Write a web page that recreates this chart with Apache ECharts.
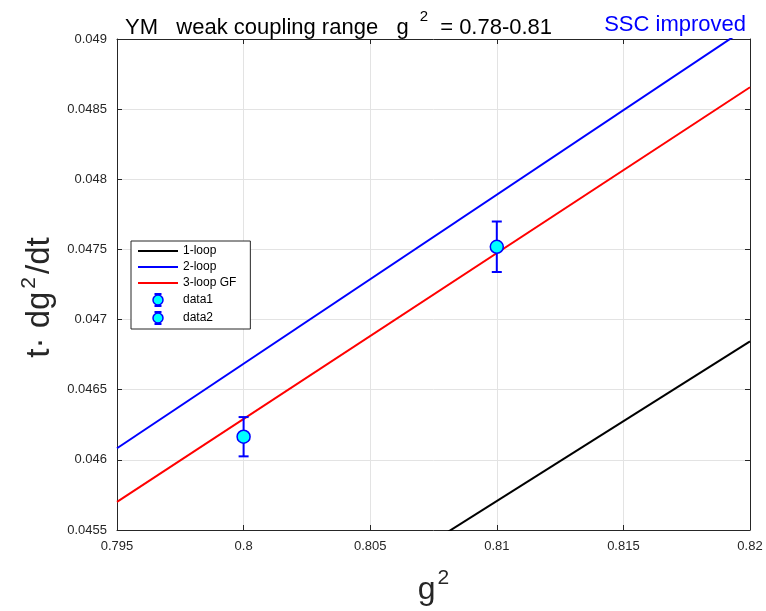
<!DOCTYPE html>
<html>
<head>
<meta charset="utf-8">
<script src="https://cdn.jsdelivr.net/npm/echarts@6/dist/echarts.min.js"></script>
<style>html,body{margin:0;padding:0;background:#fff}#c{width:766px;height:611px}</style>
</head>
<body>
<div id="c"></div>
<script>
// ---- data ----
const g2Ends = [0.795, 0.82];
const oneLoop = [0.04400, 0.046844];
const twoLoop = [0.046083, 0.049095];
const threeLoopGF = [0.04570, 0.048656];
const dataG2 = [0.80, 0.81];
const dataVal = [0.046165, 0.047519];
const dataErr = [0.00014, 0.00018];
const xTicks = [0.795, 0.8, 0.805, 0.81, 0.815, 0.82];
const yTicks = [0.0455, 0.046, 0.0465, 0.047, 0.0475, 0.048, 0.0485, 0.049];

const FONT = '"Liberation Sans", Arial, Helvetica, sans-serif';
const AX = '#262626';

function lineData(ys) { return g2Ends.map((x, i) => [x, ys[i]]); }
function errData(i) { return [[dataG2[i], dataVal[i], dataVal[i] - dataErr[i], dataVal[i] + dataErr[i]]]; }

function renderErr(params, api) {
  const x = api.value(0), y = api.value(1), lo = api.value(2), hi = api.value(3);
  const pC = api.coord([x, y]), pL = api.coord([x, lo]), pH = api.coord([x, hi]);
  const cap = 5;
  const st = { stroke: '#0000ff', lineWidth: 2 };
  return { type: 'group', children: [
    { type: 'line', shape: { x1: pL[0], y1: pL[1], x2: pH[0], y2: pH[1] }, style: st },
    { type: 'line', shape: { x1: pL[0] - cap, y1: pL[1], x2: pL[0] + cap, y2: pL[1] }, style: st },
    { type: 'line', shape: { x1: pH[0] - cap, y1: pH[1], x2: pH[0] + cap, y2: pH[1] }, style: st },
    { type: 'circle', shape: { cx: pC[0], cy: pC[1], r: 6.5 }, style: { fill: '#00ffff', stroke: '#0000ff', lineWidth: 1.5 } }
  ]};
}

const svgIcon = '<svg xmlns="http://www.w3.org/2000/svg" width="40" height="14" viewBox="0 0 40 14">' +
  '<line x1="20" y1="1" x2="20" y2="13" stroke="#0000ff" stroke-width="2"/>' +
  '<line x1="16.5" y1="1" x2="23.5" y2="1" stroke="#0000ff" stroke-width="2"/>' +
  '<line x1="16.5" y1="13" x2="23.5" y2="13" stroke="#0000ff" stroke-width="2"/>' +
  '<circle cx="20" cy="7" r="5" fill="#00ffff" stroke="#0000ff" stroke-width="1.5"/></svg>';
const errIcon = 'image://data:image/svg+xml;charset=utf-8,' + encodeURIComponent(svgIcon);

const fmt = v => String(parseFloat(v.toFixed(5)));

const baseX = { type: 'value', min: 0.795, max: 0.82, interval: 0.005 };
const baseY = { type: 'value', min: 0.0455, max: 0.049, interval: 0.0005 };
const hideSym = { opacity: 0 };

const chart = echarts.init(document.getElementById('c'), null, { renderer: 'canvas' });
chart.setOption({
  backgroundColor: '#ffffff',
  animation: false,
  textStyle: { fontFamily: FONT },
  title: [
    {
      text: '{a|YM   weak coupling range   g}{s|2}{a| = 0.78-0.81}',
      left: 120, top: 4,
      textStyle: { rich: {
        a: { fontSize: 22, fontFamily: FONT, fontWeight: 'normal', color: '#000', lineHeight: 30, verticalAlign: 'bottom' },
        s: { fontSize: 15, fontFamily: FONT, fontWeight: 'normal', color: '#000', lineHeight: 15, verticalAlign: 'top', padding: [0, 6, 0, 11] }
      } }
    },
    {
      text: 'SSC improved', right: 15, top: 9,
      textStyle: { fontSize: 22, fontFamily: FONT, color: '#0000ff', fontWeight: 'normal' }
    }
  ],
  grid: { left: 117, right: 16, top: 39, bottom: 78, containLabel: false },
  legend: {
    orient: 'vertical', left: 131, top: 241,
    backgroundColor: '#fff', borderColor: '#262626', borderWidth: 1,
    padding: [4, 14, 4, 6],
    itemWidth: 40, itemHeight: 14, itemGap: 4,
    textStyle: { fontSize: 12, fontFamily: FONT, color: '#000' },
    data: [
      { name: '1-loop', itemStyle: hideSym }, { name: '2-loop', itemStyle: hideSym }, { name: '3-loop GF', itemStyle: hideSym },
      { name: 'data1', icon: errIcon }, { name: 'data2', icon: errIcon }
    ]
  },
  xAxis: [
    Object.assign({}, baseX, {
      position: 'bottom',
      name: '{a|g}{s|2}', nameLocation: 'middle', nameGap: 38,
      nameTextStyle: { rich: {
        a: { fontSize: 32, fontFamily: FONT, color: '#262626', lineHeight: 38, verticalAlign: 'bottom' },
        s: { fontSize: 21, fontFamily: FONT, color: '#262626', lineHeight: 21, verticalAlign: 'top', padding: [0, 0, 0, 2] }
      } },
      axisLine: { show: true, onZero: false, lineStyle: { color: AX, width: 1 } },
      axisTick: { show: true, inside: true, length: 5, lineStyle: { color: AX } },
      axisLabel: { fontSize: 13, color: AX, margin: 10, formatter: fmt, fontFamily: FONT },
      splitLine: { show: true, lineStyle: { color: '#e3e3e3', width: 1 } }
    }),
    Object.assign({}, baseX, {
      position: 'top',
      axisLine: { show: true, onZero: false, lineStyle: { color: AX, width: 1 } },
      axisTick: { show: true, inside: true, length: 5, lineStyle: { color: AX } },
      axisLabel: { show: false }, splitLine: { show: false }
    })
  ],
  yAxis: [
    Object.assign({}, baseY, {
      position: 'left',
      name: '{a|t· dg}{s|2}{a|/dt}', nameLocation: 'middle', nameGap: 60, nameRotate: 90,
      nameTextStyle: { padding: [0, 26, 0, 0], rich: {
        a: { fontSize: 33, fontFamily: FONT, color: '#262626', lineHeight: 38, verticalAlign: 'bottom' },
        s: { fontSize: 21, fontFamily: FONT, color: '#262626', lineHeight: 21, verticalAlign: 'top', padding: [0, 3, 0, 3] }
      } },
      axisLine: { show: true, onZero: false, lineStyle: { color: AX, width: 1 } },
      axisTick: { show: true, inside: true, length: 5, lineStyle: { color: AX } },
      axisLabel: { fontSize: 13, color: AX, margin: 10, formatter: fmt, fontFamily: FONT },
      splitLine: { show: true, lineStyle: { color: '#e3e3e3', width: 1 } }
    }),
    Object.assign({}, baseY, {
      position: 'right',
      axisLine: { show: true, onZero: false, lineStyle: { color: AX, width: 1 } },
      axisTick: { show: true, inside: true, length: 5, lineStyle: { color: AX } },
      axisLabel: { show: false }, splitLine: { show: false }
    })
  ],
  series: [
    { name: '1-loop', type: 'line', data: lineData(oneLoop), symbol: 'none', clip: true,
      color: '#000000', lineStyle: { color: '#000000', width: 2 } },
    { name: '2-loop', type: 'line', data: lineData(twoLoop), symbol: 'none', clip: true,
      color: '#0000ff', lineStyle: { color: '#0000ff', width: 2 } },
    { name: '3-loop GF', type: 'line', data: lineData(threeLoopGF), symbol: 'none', clip: true,
      color: '#ff0000', lineStyle: { color: '#ff0000', width: 2 } },
    { name: 'data1', type: 'custom', renderItem: renderErr, data: errData(0),
      encode: { x: 0, y: [1, 2, 3] }, color: '#00ffff', z: 5 },
    { name: 'data2', type: 'custom', renderItem: renderErr, data: errData(1),
      encode: { x: 0, y: [1, 2, 3] }, color: '#00ffff', z: 5 }
  ]
});
</script>
</body>
</html>
